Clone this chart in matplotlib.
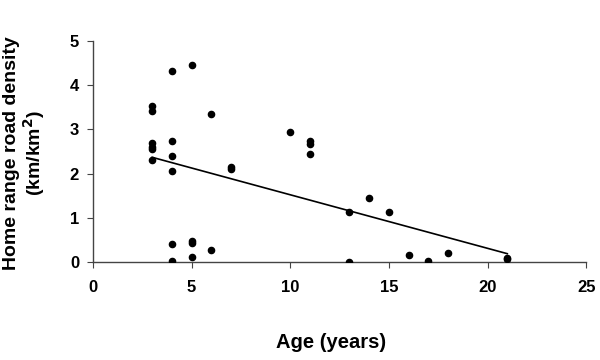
import matplotlib
matplotlib.use("Agg")
import matplotlib.pyplot as plt

# data
age = [3, 3, 3, 3, 3, 3,
       4, 4, 4, 4, 4, 4,
       5, 5, 5, 5,
       6, 6,
       7, 7,
       10,
       11, 11, 11,
       13, 13, 14, 15, 16, 17, 18, 21, 21]
density = [3.54, 3.41, 2.69, 2.61, 2.56, 2.31,
           4.33, 2.75, 2.41, 2.05, 0.40, 0.02,
           4.46, 0.47, 0.43, 0.11,
           3.36, 0.27,
           2.16, 2.11,
           2.94,
           2.75, 2.67, 2.44,
           1.14, 0.00, 1.45, 1.14, 0.17, 0.03, 0.21, 0.10, 0.06]
trend_x = [3, 21]
trend_y = [2.37, 0.19]

plt.rcParams['font.family'] = ['Liberation Sans', 'DejaVu Sans']

fig = plt.figure(figsize=(6, 3.6), dpi=100)
ax = fig.add_axes([0.155, 0.272, 0.822, 0.614])

ax.scatter(age, density, s=20, color='black', zorder=3)
ax.plot(trend_x, trend_y, color='black', lw=1.2)

ax.set_xlim(0, 25)
ax.set_ylim(0, 5)
ax.set_xticks([0, 5, 10, 15, 20, 25])
ax.set_yticks([0, 1, 2, 3, 4, 5])

for s in ['top', 'right']:
    ax.spines[s].set_visible(False)
for s in ['left', 'bottom']:
    ax.spines[s].set_color('#444444')
    ax.spines[s].set_linewidth(1.0)
ax.tick_params(direction='out', length=4, color='#444444', labelsize=12)
ax.tick_params(axis='x', pad=9)
ax.tick_params(axis='y', pad=6)
for lab in ax.get_xticklabels() + ax.get_yticklabels():
    lab.set_fontweight('bold')

fig.text(0.041, 0.575, "Home range road density\n(km/km$^\\mathbf{2}$)", rotation=90,
         ha='center', va='center', fontsize=14, fontweight='bold', linespacing=1.05)
fig.text(0.552, 0.05, "Age (years)", ha='center', va='center',
         fontsize=14.5, fontweight='bold')

plt.savefig('out.png', dpi=100)
